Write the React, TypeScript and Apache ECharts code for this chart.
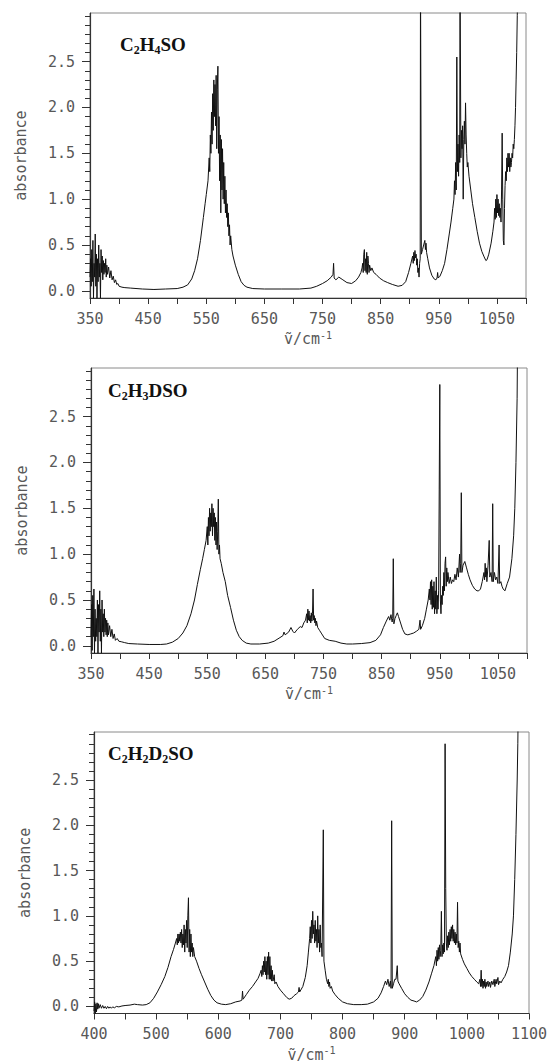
import React, { useEffect, useRef } from "react";
import * as echarts from "echarts";

// ---------- data ----------
const titles = ["C2H4SO", "C2H3DSO", "C2H2D2SO"];

const yLabelValues = [0, 0.5, 1.0, 1.5, 2.0, 2.5];
const yTickValues = [
  0, 0.1, 0.2, 0.3, 0.4, 0.5, 0.6, 0.7, 0.8, 0.9, 1.0, 1.1, 1.2, 1.3, 1.4, 1.5,
  1.6, 1.7, 1.8, 1.9, 2.0, 2.1, 2.2, 2.3, 2.4, 2.5, 2.6, 2.7, 2.8, 2.9, 3.0,
];
const xTicksA = [350, 400, 450, 500, 550, 600, 650, 700, 750, 800, 850, 900, 950, 1000, 1050, 1100];
const xLabelsA = [350, 450, 550, 650, 750, 850, 950, 1050];
const xTicksB = [400, 450, 500, 550, 600, 650, 700, 750, 800, 850, 900, 950, 1000, 1050, 1100];
const xLabelsB = [400, 500, 600, 700, 800, 900, 1000, 1100];

const spectrum1: [number, number][] = [
  [350, 0.15], [351, 0.35], [352, 0.05], [353, 0.45], [354, 0.1], [355, 0.55], [356, -0.08], [357, 0.3],
  [358, 0.15], [359, 0.62], [360, 0.05], [361, 0.4], [362, -0.08], [363, 0.35], [364, 0.1], [365, 0.5],
  [366, 0.15], [367, 0.3], [368, -0.08], [369, 0.45], [370, 0.2], [371, 0.38], [372, 0.12], [373, 0.33],
  [374, 0.18], [375, 0.3], [376, 0.2], [377, 0.35], [378, 0.15], [379, 0.28], [380, 0.18], [382, 0.26],
  [384, 0.14], [386, 0.22], [388, 0.12], [390, 0.16], [392, 0.09], [394, 0.12], [396, 0.07], [398, 0.08],
  [400, 0.05], [405, 0.04], [410, 0.035], [420, 0.03], [440, 0.02], [460, 0.015], [480, 0.02], [500, 0.025],
  [510, 0.04], [518, 0.065], [525, 0.13], [530, 0.22], [535, 0.35], [540, 0.55], [545, 0.8], [548, 0.95],
  [550, 1.05], [553, 1.2], [555, 1.45], [556, 1.3], [557, 1.7], [558, 1.5], [559, 1.95], [560, 1.6],
  [561, 2.15], [562, 1.75], [563, 2.3], [564, 1.9], [565, 2.25], [566, 1.8], [567, 2.35], [568, 1.55],
  [569, 2.2], [570, 2.45], [571, 1.5], [572, 1.9], [573, 1.2], [574, 1.7], [575, 0.85], [576, 1.65],
  [577, 1.1], [578, 1.55], [579, 1.0], [580, 1.4], [581, 0.95], [582, 1.25], [583, 0.85], [584, 1.1],
  [585, 0.8], [586, 0.95], [587, 0.7], [588, 0.85], [589, 0.6], [590, 0.72], [591, 0.5], [592, 0.6],
  [594, 0.45], [596, 0.38], [600, 0.28], [605, 0.18], [610, 0.1], [615, 0.06], [620, 0.04], [630, 0.025],
  [650, 0.02], [680, 0.02], [710, 0.02], [730, 0.03], [740, 0.05], [750, 0.08], [758, 0.11], [765, 0.15],
  [768, 0.18], [769, 0.3], [770, 0.14], [773, 0.12], [778, 0.15], [785, 0.12], [792, 0.09], [800, 0.08],
  [807, 0.11], [812, 0.15], [816, 0.2], [818, 0.25], [819, 0.3], [820, 0.2], [821, 0.4], [822, 0.45],
  [823, 0.22], [824, 0.35], [825, 0.2], [826, 0.42], [827, 0.18], [828, 0.38], [829, 0.3], [830, 0.2],
  [831, 0.28], [833, 0.22], [835, 0.25], [838, 0.2], [842, 0.18], [848, 0.14], [855, 0.11], [862, 0.09],
  [870, 0.07], [880, 0.05], [887, 0.06], [893, 0.1], [898, 0.2], [902, 0.3], [905, 0.38], [906, 0.3],
  [907, 0.42], [908, 0.33], [909, 0.44], [910, 0.36], [911, 0.4], [912, 0.28], [913, 0.35], [914, 0.2],
  [915, 0.25], [916, 0.15], [917, 0.3], [918, 0.35], [918.5, 3.5], [919.5, 3.5], [920, 0.4], [922, 0.45],
  [924, 0.5], [926, 0.55], [927, 0.45], [928, 0.52], [929, 0.42], [931, 0.35], [934, 0.25], [938, 0.17],
  [942, 0.13], [945, 0.12], [947, 0.14], [948, 0.2], [949, 0.14], [952, 0.16], [956, 0.22], [960, 0.3],
  [964, 0.45], [968, 0.62], [971, 0.75], [974, 0.9], [976, 1.0], [977, 1.2], [978, 1.05], [979, 1.4],
  [980, 1.1], [981, 2.55], [982, 1.3], [983, 1.6], [984, 1.25], [985, 1.7], [986, 1.4], [986.5, 3.5],
  [987.5, 3.5], [988, 1.45], [989, 1.75], [990, 1.55], [991, 1.8], [992, 1.0], [993, 1.65], [994, 1.85],
  [995, 1.6], [996, 2.05], [997, 1.7], [998, 1.5], [999, 1.35], [1000, 1.4], [1002, 1.25], [1005, 1.1],
  [1008, 0.95], [1012, 0.8], [1016, 0.65], [1020, 0.52], [1024, 0.43], [1028, 0.37], [1031, 0.33], [1033, 0.34],
  [1036, 0.4], [1040, 0.52], [1043, 0.65], [1045, 0.75], [1046, 0.9], [1047, 0.78], [1048, 1.0], [1049, 0.8],
  [1050, 1.05], [1051, 0.85], [1052, 1.0], [1053, 0.82], [1054, 0.95], [1055, 0.8], [1056, 0.9], [1057, 0.75],
  [1058, 1.1], [1059, 1.72], [1060, 1.0], [1061, 0.55], [1062, 0.5], [1063, 0.9], [1064, 1.15], [1065, 1.3],
  [1066, 1.2], [1067, 1.45], [1068, 1.3], [1069, 1.5], [1070, 1.35], [1071, 1.5], [1072, 1.3], [1073, 1.45],
  [1074, 1.35], [1075, 1.4], [1076, 1.5], [1077, 1.45], [1078, 1.6], [1079, 1.55], [1080, 1.65], [1081, 1.8],
  [1082, 2.0], [1083, 2.3], [1084, 2.6], [1085, 3.0], [1086, 3.5],
];

const spectrum2: [number, number][] = [
  [350, 0.1], [351, 0.45], [352, -0.05], [353, 0.55], [354, 0.1], [355, 0.62], [356, -0.08], [357, 0.4],
  [358, 0.05], [359, 0.3], [360, 0.1], [361, 0.5], [362, -0.08], [363, 0.45], [364, 0.15], [365, 0.6],
  [366, 0.05], [367, 0.4], [368, -0.08], [369, 0.5], [370, 0.15], [371, 0.35], [372, 0.1], [373, 0.4],
  [374, 0.15], [375, 0.3], [376, 0.12], [377, 0.28], [378, 0.1], [379, 0.25], [380, 0.12], [382, 0.22],
  [384, 0.1], [386, 0.18], [388, 0.08], [390, 0.13], [392, 0.06], [395, 0.08], [398, 0.05], [402, 0.045],
  [408, 0.035], [415, 0.025], [430, 0.02], [450, 0.015], [470, 0.015], [480, 0.02], [490, 0.04], [500, 0.08],
  [508, 0.14], [515, 0.22], [522, 0.35], [528, 0.5], [533, 0.67], [538, 0.83], [542, 0.95], [545, 1.05],
  [548, 1.15], [550, 1.3], [551, 1.1], [552, 1.4], [553, 1.2], [554, 1.5], [555, 1.25], [556, 1.45],
  [557, 1.3], [558, 1.55], [559, 1.2], [560, 1.5], [561, 1.3], [562, 1.45], [563, 1.15], [564, 1.4],
  [565, 1.1], [566, 1.35], [567, 1.05], [568, 1.25], [569, 1.6], [570, 1.0], [571, 1.1], [572, 0.95],
  [574, 0.9], [577, 0.8], [581, 0.7], [585, 0.55], [590, 0.42], [595, 0.28], [600, 0.17], [605, 0.1],
  [610, 0.06], [617, 0.03], [625, 0.02], [640, 0.02], [655, 0.03], [665, 0.05], [675, 0.09], [680, 0.11],
  [682, 0.15], [684, 0.12], [690, 0.15], [694, 0.2], [697, 0.16], [700, 0.14], [705, 0.18], [710, 0.21],
  [713, 0.2], [716, 0.25], [719, 0.28], [721, 0.35], [722, 0.25], [723, 0.4], [724, 0.28], [725, 0.38],
  [726, 0.27], [727, 0.33], [728, 0.25], [729, 0.36], [730, 0.27], [731, 0.35], [732, 0.62], [733, 0.28],
  [734, 0.33], [735, 0.25], [736, 0.3], [737, 0.22], [738, 0.27], [740, 0.2], [743, 0.17], [747, 0.13],
  [752, 0.08], [760, 0.06], [770, 0.05], [780, 0.03], [790, 0.02], [800, 0.02], [815, 0.025], [830, 0.035],
  [840, 0.06], [848, 0.12], [853, 0.2], [858, 0.27], [862, 0.32], [864, 0.28], [866, 0.34], [868, 0.26],
  [869, 0.3], [870, 0.95], [871, 0.24], [873, 0.3], [875, 0.33], [877, 0.36], [879, 0.32], [882, 0.26],
  [886, 0.18], [890, 0.13], [895, 0.12], [900, 0.13], [905, 0.14], [910, 0.16], [914, 0.18], [916, 0.28],
  [917, 0.18], [920, 0.22], [924, 0.3], [927, 0.4], [930, 0.5], [932, 0.62], [933, 0.5], [934, 0.7],
  [935, 0.45], [936, 0.72], [937, 0.4], [938, 0.65], [939, 0.42], [940, 0.7], [941, 0.35], [942, 0.6],
  [943, 0.4], [944, 0.75], [945, 0.35], [946, 0.55], [947, 0.4], [948, 0.6], [949, 1.7], [950, 2.85],
  [951, 0.5], [952, 0.35], [953, 0.55], [954, 0.45], [955, 0.65], [956, 0.55], [957, 0.8], [958, 0.6],
  [959, 0.9], [960, 0.97], [961, 0.65], [962, 0.85], [963, 0.7], [964, 0.8], [966, 0.68], [968, 0.75],
  [970, 0.68], [972, 0.72], [974, 0.7], [976, 0.78], [978, 0.72], [980, 0.85], [982, 0.75], [984, 1.0],
  [985, 0.8], [986, 0.9], [987, 1.67], [988, 0.8], [990, 0.88], [993, 0.92], [996, 0.85], [999, 0.78],
  [1002, 0.72], [1006, 0.66], [1010, 0.62], [1014, 0.6], [1017, 0.6], [1020, 0.62], [1023, 0.7], [1026, 0.8],
  [1027, 0.72], [1028, 0.9], [1029, 0.75], [1030, 0.85], [1031, 0.7], [1033, 0.88], [1035, 1.15], [1036, 0.75],
  [1038, 0.8], [1040, 0.7], [1041, 1.55], [1042, 0.7], [1044, 0.8], [1046, 0.72], [1048, 0.75], [1050, 0.68],
  [1052, 1.1], [1053, 0.68], [1055, 0.7], [1057, 0.65], [1059, 0.62], [1062, 0.6], [1066, 0.68], [1070, 0.75],
  [1074, 0.95], [1077, 1.2], [1079, 1.5], [1081, 2.0], [1083, 2.7], [1084, 3.5],
];

const spectrum3: [number, number][] = [
  [400, -0.05], [401, 0.05], [402, -0.08], [403, 0.03], [404, -0.06], [405, 0.04], [406, -0.03], [407, 0.03],
  [408, -0.02], [410, 0.02], [412, -0.02], [414, 0.01], [416, -0.02], [418, 0.0], [420, -0.025], [422, 0.0],
  [424, -0.02], [426, -0.005], [428, -0.02], [430, -0.005], [433, -0.015], [436, 0.0], [440, -0.005], [445, 0.005],
  [450, 0.01], [458, 0.015], [465, 0.025], [470, 0.02], [478, 0.015], [484, 0.02], [490, 0.04], [496, 0.09],
  [502, 0.16], [508, 0.24], [514, 0.33], [519, 0.43], [524, 0.55], [528, 0.63], [531, 0.7], [533, 0.75],
  [534, 0.68], [535, 0.8], [536, 0.7], [537, 0.8], [538, 0.72], [539, 0.82], [540, 0.7], [541, 0.85],
  [542, 0.65], [543, 0.8], [544, 0.68], [545, 0.9], [546, 0.6], [547, 0.85], [548, 0.7], [549, 0.95],
  [550, 0.65], [551, 1.0], [552, 1.2], [553, 0.6], [554, 0.85], [555, 0.55], [556, 0.8], [557, 0.6],
  [558, 0.7], [559, 0.55], [560, 0.65], [562, 0.55], [565, 0.5], [569, 0.42], [573, 0.35], [578, 0.27],
  [583, 0.19], [588, 0.12], [593, 0.07], [598, 0.04], [605, 0.025], [612, 0.02], [620, 0.03], [628, 0.05],
  [635, 0.06], [638, 0.07], [639, 0.17], [640, 0.08], [645, 0.13], [650, 0.18], [655, 0.22], [660, 0.27],
  [664, 0.31], [667, 0.36], [669, 0.4], [670, 0.33], [671, 0.45], [672, 0.35], [673, 0.5], [674, 0.38],
  [675, 0.55], [676, 0.35], [677, 0.5], [678, 0.3], [679, 0.55], [680, 0.35], [681, 0.6], [682, 0.3],
  [683, 0.55], [684, 0.3], [685, 0.45], [686, 0.28], [687, 0.4], [688, 0.28], [690, 0.35], [691, 0.25],
  [693, 0.27], [696, 0.22], [700, 0.18], [705, 0.14], [710, 0.1], [714, 0.08], [718, 0.09], [722, 0.12],
  [726, 0.14], [729, 0.16], [730, 0.21], [731, 0.16], [736, 0.22], [740, 0.32], [743, 0.45], [745, 0.6],
  [747, 0.75], [748, 0.88], [749, 0.7], [750, 0.95], [751, 0.75], [752, 1.05], [753, 0.8], [754, 0.9],
  [755, 0.7], [756, 0.95], [757, 0.72], [758, 0.85], [759, 0.65], [760, 1.0], [761, 0.7], [762, 0.85],
  [763, 0.6], [764, 0.9], [765, 0.65], [766, 0.7], [767, 0.55], [768, 0.55], [769, 1.95], [770, 0.5],
  [772, 0.4], [774, 0.3], [776, 0.25], [777, 0.3], [778, 0.22], [779, 0.27], [780, 0.2], [782, 0.22],
  [784, 0.17], [788, 0.13], [793, 0.09], [800, 0.05], [808, 0.03], [818, 0.02], [830, 0.02], [840, 0.025],
  [850, 0.05], [857, 0.09], [862, 0.15], [866, 0.22], [869, 0.28], [871, 0.24], [873, 0.3], [875, 0.22],
  [877, 0.28], [878, 0.2], [879, 2.05], [880, 0.2], [882, 0.25], [884, 0.3], [886, 0.3], [888, 0.45],
  [889, 0.28], [891, 0.25], [895, 0.2], [900, 0.14], [905, 0.1], [910, 0.07], [915, 0.06], [919, 0.05],
  [924, 0.07], [929, 0.11], [934, 0.18], [939, 0.27], [943, 0.36], [947, 0.45], [950, 0.55], [951, 0.45],
  [952, 0.62], [953, 0.5], [954, 0.65], [955, 0.52], [956, 0.68], [957, 0.55], [958, 0.62], [959, 1.05],
  [960, 0.55], [961, 0.68], [962, 0.58], [963, 0.7], [964, 0.6], [965, 2.9], [966, 1.3], [967, 0.7],
  [968, 0.62], [969, 0.78], [970, 0.65], [971, 0.82], [972, 0.68], [973, 0.85], [974, 0.72], [975, 0.88],
  [976, 0.75], [977, 0.9], [978, 0.72], [979, 0.85], [980, 0.7], [981, 0.82], [982, 0.68], [983, 0.8],
  [984, 0.7], [985, 1.15], [986, 0.65], [987, 0.72], [988, 0.6], [989, 0.7], [990, 0.58], [993, 0.52],
  [996, 0.47], [1000, 0.42], [1004, 0.37], [1008, 0.33], [1012, 0.3], [1016, 0.27], [1019, 0.25], [1021, 0.3],
  [1022, 0.22], [1023, 0.4], [1024, 0.22], [1025, 0.3], [1026, 0.2], [1027, 0.28], [1028, 0.22], [1029, 0.3],
  [1030, 0.2], [1031, 0.27], [1032, 0.22], [1034, 0.28], [1035, 0.22], [1037, 0.27], [1038, 0.21], [1040, 0.28],
  [1042, 0.24], [1044, 0.3], [1045, 0.22], [1047, 0.3], [1048, 0.25], [1050, 0.32], [1051, 0.24], [1053, 0.28],
  [1055, 0.26], [1058, 0.3], [1061, 0.33], [1064, 0.38], [1067, 0.45], [1070, 0.6], [1073, 0.8], [1075, 1.0],
  [1077, 1.4], [1079, 1.9], [1081, 2.5], [1082, 2.9], [1083, 3.5],
];

// ---------- helpers ----------
const MONO = "'DejaVu Sans Mono', 'Liberation Mono', monospace";
const SERIF = "'Liberation Serif', 'DejaVu Serif', serif";

function titleRich(t: string): string {
  // digits become subscripts
  return t.replace(/([A-Z]+)/g, "{a|$1}").replace(/(\d)/g, "{s|$1}");
}

export default function App() {
  const ref = useRef<HTMLDivElement>(null);

  useEffect(() => {
    if (!ref.current) return;
    const chart = echarts.init(ref.current, undefined, { renderer: "svg" });

    const panels = [
      { data: spectrum1, min: 350, ticks: xTicksA, labels: xLabelsA, left: 90, top: 13, width: 436, height: 285, titleX: 120, titleY: 44 },
      { data: spectrum2, min: 350, ticks: xTicksA, labels: xLabelsA, left: 91, top: 368, width: 436, height: 285, titleX: 108, titleY: 390 },
      { data: spectrum3, min: 400, ticks: xTicksB, labels: xLabelsB, left: 94, top: 732, width: 435, height: 287, titleX: 108, titleY: 753 },
    ];

    const axisColor = "#333";
    const labelColor = "#585858";

    const grid = panels.map((p) => ({
      left: p.left,
      top: p.top,
      width: p.width,
      height: p.height,
      show: true,
      borderColor: "#8a8a8a",
      borderWidth: 1,
      containLabel: false,
    }));

    const xAxis = panels.map((p, i) => ({
      type: "value",
      gridIndex: i,
      min: p.min,
      max: 1100,
      interval: 50,
      name: "{a|ṽ/cm}{s|-1}",
      nameLocation: "middle",
      nameGap: 32,
      nameTextStyle: {
        rich: {
          a: { fontFamily: MONO, fontSize: 15, color: labelColor, lineHeight: 18 },
          s: { fontFamily: MONO, fontSize: 10, color: labelColor, verticalAlign: "top", lineHeight: 12 },
        },
      },
      axisLine: { show: true, onZero: false, lineStyle: { color: axisColor, width: 1.2 } },
      axisTick: { show: true, inside: false, length: 6, customValues: p.ticks, lineStyle: { color: axisColor } },
      axisLabel: {
        show: true,
        customValues: p.labels,
        margin: 13,
        fontFamily: MONO,
        fontSize: 15,
        color: labelColor,
        showMaxLabel: true,
        showMinLabel: true,
        formatter: (v: number) => String(Math.round(v)),
      },
      splitLine: { show: false },
    }));

    const yAxis: any[] = [];
    panels.forEach((p, i) => {
      yAxis.push({
        type: "value",
        gridIndex: i,
        position: "left",
        min: -0.078,
        max: 3.03,
        name: "absorbance",
        nameLocation: "middle",
        nameGap: 62,
        nameTextStyle: { fontFamily: MONO, fontSize: 15, color: labelColor },
        axisLine: { show: true, onZero: false, lineStyle: { color: axisColor, width: 1.2 } },
        axisTick: { show: true, inside: false, length: 8, customValues: yLabelValues, lineStyle: { color: axisColor } },
        axisLabel: {
          show: true,
          customValues: yLabelValues,
          margin: 15,
          fontFamily: MONO,
          fontSize: 15,
          color: labelColor,
          formatter: (v: number) => v.toFixed(1),
        },
        splitLine: { show: false },
      });
      yAxis.push({
        type: "value",
        gridIndex: i,
        position: "left",
        min: -0.078,
        max: 3.03,
        axisLine: { show: false },
        axisTick: { show: true, inside: false, length: 5, customValues: yTickValues, lineStyle: { color: axisColor } },
        axisLabel: { show: false },
        splitLine: { show: false },
      });
    });

    const series = panels.map((p, i) => ({
      type: "line",
      xAxisIndex: i,
      yAxisIndex: i * 2,
      data: p.data,
      showSymbol: false,
      symbol: "none",
      clip: true,
      lineStyle: { color: "#111", width: 1.0 },
      silent: true,
    }));

    const graphic = panels.map((p, i) => ({
      type: "text",
      x: p.titleX,
      y: p.titleY,
      style: {
        text: titleRich(titles[i]),
        verticalAlign: "middle",
        align: "left",
        rich: {
          a: { fontFamily: SERIF, fontWeight: "bold", fontSize: 19, fill: "#111", lineHeight: 24 },
          s: { fontFamily: SERIF, fontWeight: "bold", fontSize: 12, fill: "#111", lineHeight: 14, verticalAlign: "bottom" },
        },
      },
    }));

    chart.setOption({
      animation: false,
      backgroundColor: "#ffffff",
      grid,
      xAxis,
      yAxis,
      series,
      graphic,
    } as any);

    return () => chart.dispose();
  }, []);

  return (
    <div
      ref={ref}
      style={{ position: "fixed", left: 0, top: 0, width: 552, height: 1063, background: "#fff" }}
    />
  );
}
